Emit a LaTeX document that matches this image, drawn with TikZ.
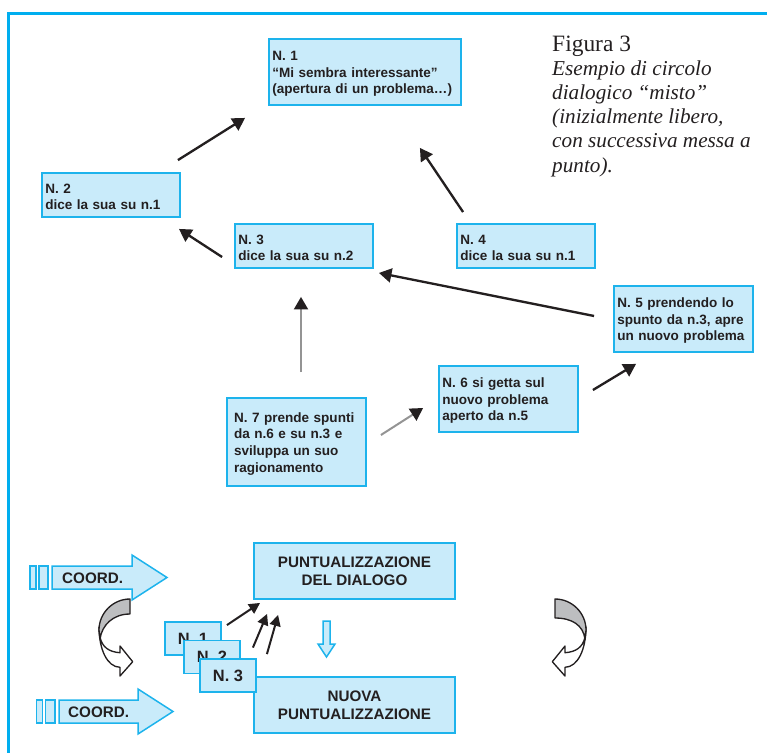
\documentclass[tikz,border=0pt]{standalone}
\usepackage{fontspec}
\setmainfont{Liberation Serif}
\setsansfont{Liberation Sans}
\usetikzlibrary{arrows.meta, positioning}
\definecolor{frameblue}{HTML}{00AEEF}
\definecolor{boxfill}{HTML}{C9EBFA}
\definecolor{boxline}{HTML}{1DB3EC}
\definecolor{ink}{HTML}{231F20}
\definecolor{ribbongray}{HTML}{BDBEC0}
\pgfdeclarelayer{bg1}
\pgfsetlayers{bg1,main}
\newcommand{\cardfont}{\sffamily\bfseries\fontsize{11.55}{14.25}\selectfont}
\newcommand{\capsfont}{\sffamily\bfseries\fontsize{13}{15.4}\selectfont}
\tikzset{
	card/.style = {rectangle, draw = boxline, fill = boxfill, line width = 0.055cm, inner xsep = 0.1cm, inner ysep = 0pt, align = left, text = ink, font = \cardfont, execute at begin node = {\rule{0pt}{0.4cm}}},
	puntbox/.style = {rectangle, draw = boxline, fill = boxfill, line width = 0.055cm, minimum width = 6.03cm, minimum height = 1.68cm, align = center, text = ink, font = \capsfont},
	tag/.style = {rectangle, draw = boxline, fill = boxfill, line width = 0.055cm, minimum width = 1.68cm, minimum height = 0.99cm, inner sep = 0pt, text = ink, font = \sffamily\bfseries\fontsize{14}{16}\selectfont},
	coordtext/.style = {inner sep = 0pt, anchor = base west, text = ink, font = \capsfont},
	arrow/.style = {-{Triangle[length = 0.375cm, width = 0.42cm]}, draw = ink, line width = 0.07cm},
	grayarrow/.style = {-{Triangle[length = 0.375cm, width = 0.42cm, color = ink]}, draw = black!42, line width = 0.06cm},
	smallarrow/.style = {-{Triangle[length = 0.33cm, width = 0.33cm]}, draw = ink, line width = 0.06cm},
	bigarrow/.style = {draw = boxline, fill = boxfill, line width = 0.045cm},
	ribbon/.style = {draw = ink, line width = 0.04cm, line join = round}
}

\begin{document}
\begin{tikzpicture}[x = 0.03cm, y = -0.03cm]
	\useasboundingbox (0,0) rectangle (767,753);
	% frame
	\draw [frameblue, line width = 0.09cm] (767,13.5) -| (8,753);

	%% dialogue circle
	% speakers
	\node (n1) [card, text width = 5.56cm, minimum height = 1.98cm] at (365,72) {N. 1\\“Mi sembra interessante”\\(apertura di un problema…)};
	\node (n2) [card, text width = 3.94cm, minimum height = 1.32cm] at (111,195) {N. 2\\dice la sua su n.1};
	\node (n3) [card, text width = 3.94cm, minimum height = 1.32cm] at (304,246) {N. 3\\dice la sua su n.2};
	\node (n4) [card, text width = 3.94cm, minimum height = 1.32cm, right of = n3, xshift = 5.66cm] {N. 4\\dice la sua su n.1};
	\node (n5) [card, text width = 3.97cm, minimum height = 1.98cm] at (683.5,319) {N. 5 prendendo lo\\spunto da n.3, apre\\un nuovo problema};
	\node (n6) [card, text width = 3.97cm, minimum height = 1.98cm] at (508.5,399) {N. 6 si getta sul\\nuovo problema\\aperto da n.5};
	\node (n7) [card, text width = 3.75cm, inner xsep = 0.21cm, minimum height = 2.64cm] at (296.5,442) {N. 7 prende spunti\\da n.6 e su n.3 e\\sviluppa un suo\\ragionamento};

	% caption
	\node (fig) [anchor = base west, inner sep = 0pt, align = left, text = ink, font = \fontsize{18.1}{20.5}\selectfont] at (552,172) {{\fontsize{20}{20.5}\selectfont Figura 3}\\\textit{Esempio di circolo}\\\textit{dialogico “misto”}\\\textit{(inizialmente libero,}\\\textit{con successiva messa a}\\\textit{punto).}};

	%% coordination
	\node (punt) [puntbox] at (354.5,571) {PUNTUALIZZAZIONE\\DEL DIALOGO};
	\node (nuova) [puntbox, below of = punt, yshift = -3.02cm] {NUOVA\\PUNTUALIZZAZIONE};
	\node (sn1) [tag] at (193,638.5) {N. 1};
	\node (sn2) [tag] at (212,657) {N. 2};
	\node (sn3) [tag] at (228,675.5) {N. 3};

	% coord arrows
	\filldraw [bigarrow] (30,566) rectangle (36,589);
	\filldraw [bigarrow] (39,566) rectangle (48,589);
	\filldraw [bigarrow] (52,566) -- (132,566) -- (132,555) -- (167,577.5) -- (132,600) -- (132,589) -- (52,589) -- cycle;
	\node (coordA) [coordtext] at (62,583) {COORD.};
	\filldraw [bigarrow] (36.5,700) rectangle (42.5,723);
	\filldraw [bigarrow] (45.5,700) rectangle (55,723);
	\filldraw [bigarrow] (59,700) -- (138,700) -- (138,689) -- (173,711.5) -- (138,734) -- (138,723) -- (59,723) -- cycle;
	\node (coordB) [coordtext] at (68,717) {COORD.};

	% down arrow
	\filldraw [bigarrow] (323,621) -- (330,621) -- (330,644) -- (335,644) -- (326.5,657) -- (318,644) -- (323,644) -- cycle;

	% twisted arrows
	\begin{scope}[shift = {(99,599)}]
		\filldraw [ribbon, fill = white] (0,28) .. controls (0,50) and (8,68) .. (21,68.3) -- (21,77) -- (33.7,62.7) -- (21,47) -- (21,53.7) .. controls (10,53) and (3,48) .. (1,38) -- cycle;
		\filldraw [ribbon, fill = ribbongray] (31,0) .. controls (14,0) and (0,14) .. (0,31) -- (1,40) .. controls (3,26) and (14,15) .. (31,15) -- cycle;
	\end{scope}
	\begin{scope}[shift = {(586,599)}, xscale = -1]
		\filldraw [ribbon, fill = white] (0,28) .. controls (0,50) and (8,68) .. (21,68.3) -- (21,77) -- (33.7,62.7) -- (21,47) -- (21,53.7) .. controls (10,53) and (3,48) .. (1,38) -- cycle;
		\filldraw [ribbon, fill = ribbongray] (31,0) .. controls (14,0) and (0,14) .. (0,31) -- (1,40) .. controls (3,26) and (14,19) .. (31,19) -- cycle;
	\end{scope}

	%%% arrows %%%
	\begin{pgfonlayer}{bg1}
	\draw [arrow] ([shift = {(-3,-12)}]n2.north east) -- ([shift = {(-23,12)}]n1.south west);
	\draw [arrow] ([shift = {(7,-11)}]n4.north west) -- ([shift = {(-42,42)}]n1.south east);
	\draw [arrow] ([shift = {(-12,11)}]n3.west) -- ([shift = {(-2,11)}]n2.south east);
	\draw [arrow] ([shift = {(-19,-3)}]n5.west) -- ([shift = {(5,4)}]n3.south east);
	\draw [grayarrow] ([shift = {(4.5,-25)}]n7.north) -- ([shift = {(-3,28)}]n3.south);
	\draw [grayarrow] ([shift = {(14,-7)}]n7.east) -- ([shift = {(-15,9)}]n6.west);
	\draw [arrow] ([shift = {(14,-9)}]n6.east) -- ([shift = {(23,11)}]n5.south west);

	\draw [smallarrow] ([shift = {(5,4)}]sn1.north east) -- ([shift = {(7,3)}]punt.south west);
	\draw [smallarrow] ([shift = {(12,8)}]sn2.north east) -- ([shift = {(14,14)}]punt.south west);
	\draw [smallarrow] ([shift = {(10,-4)}]sn3.north east) -- ([shift = {(25,15)}]punt.south west);
	\end{pgfonlayer}
\end{tikzpicture}
\end{document}
